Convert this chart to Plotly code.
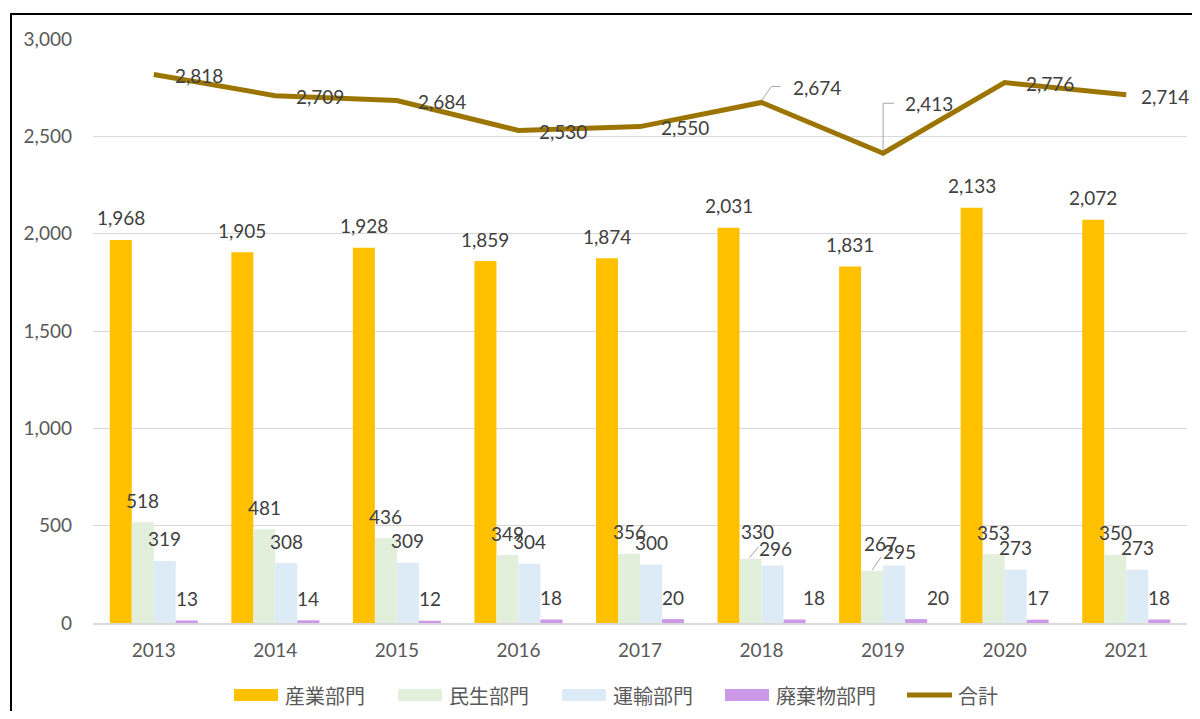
import plotly.graph_objects as go

years = ["2013", "2014", "2015", "2016", "2017", "2018", "2019", "2020", "2021"]
industry = [1968, 1905, 1928, 1859, 1874, 2031, 1831, 2133, 2072]
residential = [518, 481, 436, 349, 356, 330, 267, 353, 350]
transport = [319, 308, 309, 304, 300, 296, 295, 273, 273]
waste = [13, 14, 12, 18, 20, 18, 20, 17, 18]
total = [2818, 2709, 2684, 2530, 2550, 2674, 2413, 2776, 2714]

series_names = ["産業部門", "民生部門", "運輸部門", "廃棄物部門", "合計"]
bar_colors = ["#FFC000", "#E2EFDA", "#DDEBF7", "#CC99E8"]
line_color = "#9C7500"
text_color = "#404040"
axis_text = "#595959"
leader_color = "#A6A6A6"
num_font = "Lato, 'Noto Sans CJK JP', sans-serif"
cjk_font = "'Noto Sans CJK JP', sans-serif"

W, H = 1192, 703
ML, MR, MT, MB = 85, 13, 31, 88
PW, PH = W - ML - MR, H - MT - MB
BARGAP = 0.276


def paper_x(px):
    return (px - ML) / PW


def paper_y(py):
    return (H - MB - py) / PH


bar_series = [industry, residential, transport, waste]
nser = len(bar_series)
group_w = 1 - BARGAP
bar_w = group_w / nser
bar_off = [-group_w / 2 + bar_w * (k + 0.5) for k in range(nser)]

fig = go.Figure()
for name, vals, col in zip(series_names[:4], bar_series, bar_colors):
    fig.add_trace(go.Bar(
        x=years, y=vals, name=name, marker=dict(color=col, line=dict(width=0)),
        showlegend=False, hoverinfo="x+y+name",
    ))

fig.add_trace(go.Scatter(
    x=years, y=total, name=series_names[4], mode="lines", showlegend=False,
    line=dict(color=line_color, width=5), cliponaxis=False,
))

# ---- bar data labels (pixel offsets are styling only)
bar_label_shift = {(5, 1): (7, 27), (5, 2): (3, 17), (5, 3): (19, 22),
                   (6, 1): (8, 28), (6, 2): (5, 14), (6, 3): (22, 22)}
for k, vals in enumerate(bar_series):
    for i, v in enumerate(vals):
        dx, dy = bar_label_shift.get((i, k), (0, 22))
        fig.add_annotation(
            x=i + bar_off[k], y=v, text=f"{v:,}", showarrow=False,
            xanchor="center", yanchor="middle", xshift=dx, yshift=dy,
            font=dict(size=19, color=text_color, family=num_font),
        )

# leader lines for the two displaced bar labels
for (i, k), path in {(5, 1): "M-1,1 L8,12", (6, 1): "M0,1 L9,14"}.items():
    fig.add_shape(type="path", xref="x", yref="y", xsizemode="pixel", ysizemode="pixel",
                  xanchor=i + bar_off[k], yanchor=bar_series[k][i], path=path,
                  line=dict(color=leader_color, width=1))

# ---- line data labels
line_label_shift = {5: (29, 15), 6: (20, 50), 8: (13, -2)}
for i, v in enumerate(total):
    dx, dy = line_label_shift.get(i, (19, -1))
    fig.add_annotation(
        x=i, y=v, text=f"{v:,}", showarrow=False, xanchor="left", yanchor="middle",
        xshift=dx, yshift=dy,
        font=dict(size=19, color=text_color, family=num_font),
    )
for i, path in {5: "M0,2 L10,16 L19,16", 6: "M0,3 L0,50 L11,50"}.items():
    fig.add_shape(type="path", xref="x", yref="y", xsizemode="pixel", ysizemode="pixel",
                  xanchor=i, yanchor=total[i], path=path,
                  line=dict(color=leader_color, width=1))

# ---- custom legend (wide swatches like the original)
leg_cy = 687
sw_left = [226, 390, 554, 717]
for name, col, x0 in zip(series_names[:4], bar_colors, sw_left):
    fig.add_shape(type="rect", xref="paper", yref="paper",
                  x0=paper_x(x0), x1=paper_x(x0 + 44),
                  y0=paper_y(leg_cy + 6), y1=paper_y(leg_cy - 6),
                  line=dict(width=0), fillcolor=col)
    fig.add_annotation(xref="paper", yref="paper", x=paper_x(x0 + 49), y=paper_y(leg_cy),
                       text=name, showarrow=False, xanchor="left", yanchor="middle",
                       font=dict(size=20, color=axis_text, family=cjk_font))
fig.add_shape(type="line", xref="paper", yref="paper",
              x0=paper_x(899), x1=paper_x(944), y0=paper_y(leg_cy), y1=paper_y(leg_cy),
              line=dict(color=line_color, width=5))
fig.add_annotation(xref="paper", yref="paper", x=paper_x(948), y=paper_y(leg_cy),
                   text=series_names[4], showarrow=False, xanchor="left", yanchor="middle",
                   font=dict(size=20, color=axis_text, family=cjk_font))

# ---- frame
fig.add_shape(type="line", xref="paper", yref="paper", x0=paper_x(3), x1=paper_x(3),
              y0=paper_y(H + 20), y1=paper_y(6), line=dict(color="black", width=2))
fig.add_shape(type="line", xref="paper", yref="paper", x0=paper_x(2), x1=paper_x(W + 10),
              y0=paper_y(6), y1=paper_y(6), line=dict(color="black", width=2))

fig.update_layout(
    width=W, height=H,
    margin=dict(l=ML, r=MR, t=MT, b=MB, autoexpand=False),
    plot_bgcolor="white", paper_bgcolor="white",
    barmode="group", bargap=BARGAP, bargroupgap=0,
    font=dict(family=num_font, size=19, color=axis_text),
    showlegend=False,
    xaxis=dict(type="category", range=[-0.5, 8.5], autorange=False, showgrid=False,
               showline=True, linecolor="#D9D9D9", linewidth=1.5,
               ticks="", tickfont=dict(size=19, color=axis_text), ticklabelstandoff=9),
    yaxis=dict(range=[0, 3000], autorange=False, dtick=500, tickformat=",", showgrid=True,
               gridcolor="#D9D9D9", gridwidth=1, zeroline=False, showline=False, ticks="",
               tickfont=dict(size=19, color=axis_text), ticklabelstandoff=20),
)

fig.write_html("out.html")
